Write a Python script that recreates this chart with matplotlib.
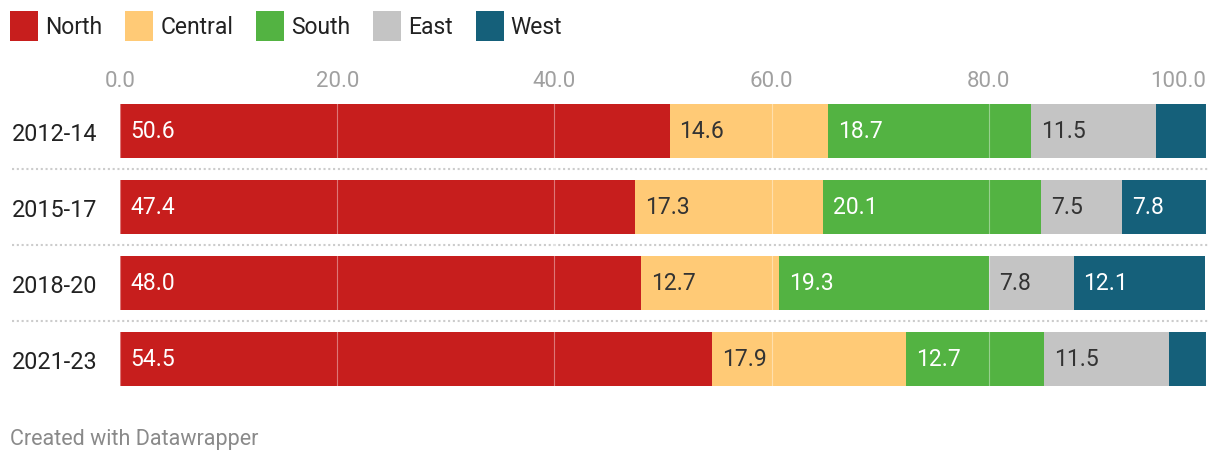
import matplotlib
matplotlib.use("Agg")
import matplotlib.pyplot as plt
from matplotlib.patches import Rectangle
from matplotlib.transforms import blended_transform_factory
import numpy as np

plt.rcParams['font.family'] = ['Roboto', 'DejaVu Sans']

periods = ["2012-14", "2015-17", "2018-20", "2021-23"]
series = ["North", "Central", "South", "East", "West"]
north = [50.6, 47.4, 48.0, 54.5]
central = [14.6, 17.3, 12.7, 17.9]
south = [18.7, 20.1, 19.3, 12.7]
east = [11.5, 7.5, 7.8, 11.5]
west = [4.6, 7.8, 12.1, 3.4]
values = [north, central, south, east, west]
colors = ["#c71e1d", "#ffca76", "#53b342", "#c4c4c4", "#15607a"]
label_colors = ["white", "#333333", "white", "#333333", "white"]
ticks = [0, 20, 40, 60, 80, 100]
tick_labels = ["0.0", "20.0", "40.0", "60.0", "80.0", "100.0"]

W, H = 1220, 464
fig = plt.figure(figsize=(W / 100, H / 100), dpi=100)

# axes: x 120..1206 px, y 94..398 px
ax_l, ax_r = 120, 1206
ax_t, ax_b = 94, 398
ax = fig.add_axes([ax_l / W, 1 - ax_b / H, (ax_r - ax_l) / W, (ax_b - ax_t) / H])
ax.set_xlim(0, 100)
ax.set_ylim(len(periods) - 0.5, -0.5)

y = np.arange(len(periods))
left = np.zeros(len(periods))
bar_h = 54 / 76
for vals, col, tcol in zip(values, colors, label_colors):
    vals = np.array(vals)
    ax.barh(y, vals, left=left, height=bar_h, color=col, linewidth=0, zorder=2)
    for yi, (l, v) in enumerate(zip(left, vals)):
        if v >= 5:
            ax.annotate(f"{v:.1f}", xy=(l, yi), xytext=(10, 0), textcoords="offset pixels",
                        ha="left", va="center", fontsize=16.5, color=tcol, zorder=4)
    left = left + vals

# gridlines on top of bars
for t in ticks:
    ax.axvline(t, color="white", alpha=0.4, lw=0.8, zorder=3)

# dotted separators
trans = blended_transform_factory(fig.transFigure, ax.transData)
for i in range(len(periods) - 1):
    ax.plot([12 / W, 1208 / W], [i + 0.5, i + 0.5], transform=trans, clip_on=False,
            color="#cccccc", lw=1.5, linestyle=(0, (1, 1.3)), zorder=1)

ax.xaxis.tick_top()
ax.set_xticks(ticks)
ax.set_xticklabels(tick_labels)
ax.tick_params(axis="x", length=0, pad=1.5, labelsize=16, labelcolor="#a0a0a0")
xl = ax.get_xticklabels()
xl[-1].set_horizontalalignment("right")
xl[-1].set_x(100)

ax.set_yticks(y)
ax.set_yticklabels(periods)
ax.tick_params(axis="y", length=0, pad=(120 - 12) * 0.72, labelsize=16.8, labelcolor="#222222")
for lab in ax.get_yticklabels():
    lab.set_horizontalalignment("left")

for s in ax.spines.values():
    s.set_visible(False)

# legend (manual, figure pixel coordinates)
fig.canvas.draw()
renderer = fig.canvas.get_renderer()
x = 10
for name, col in zip(series, colors):
    fig.patches.append(Rectangle((x / W, 1 - 42 / H), 28 / W, 30 / H, transform=fig.transFigure,
                                 facecolor=col, edgecolor="none"))
    t = fig.text((x + 35) / W, 1 - 27 / H, name, ha="left", va="center", fontsize=16.5, color="#222222")
    bb = t.get_window_extent(renderer)
    x = bb.x1 + 23

fig.text(10 / W, 1 - 440 / H, "Created with Datawrapper", ha="left", va="center",
         fontsize=15.5, color="#8a8a8a")

fig.savefig("out.png", dpi=100)
